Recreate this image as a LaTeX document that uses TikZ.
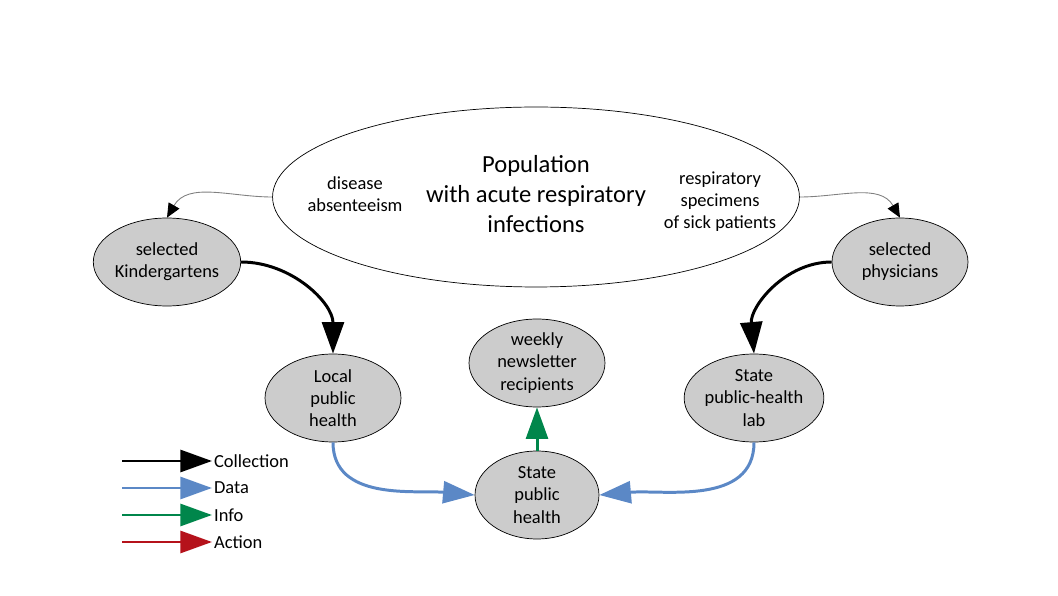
\documentclass[tikz,border=0pt]{standalone}
\usepackage{fontspec}
\setmainfont{Carlito}
\usetikzlibrary{arrows.meta,shapes.geometric}
\definecolor{collectc}{HTML}{000000}
\definecolor{datac}{HTML}{5B88C6}
\definecolor{infoc}{HTML}{00864B}
\definecolor{actionc}{HTML}{B5121B}
\tikzset{
  actor/.style={ellipse, draw, fill=gray!40, inner sep=0pt, minimum width=2.72cm, minimum height=1.76cm, align=center, font=\fontsize{10.5}{12.6}\selectfont},
  big/.style={-{Triangle[length=18pt,width=12.5pt]}, line width=1.7pt},
  feed/.style={-{Triangle[length=8pt,width=7pt,color=black]}, draw=gray, line width=0.5pt},
  legtext/.style={anchor=west, inner sep=1pt, font=\fontsize{10.5}{12.6}\selectfont}
}
\begin{document}
\begin{tikzpicture}[x=0.02cm, y=0.02cm]
\useasboundingbox (0,0) rectangle (1058,595);
% population and its two sources
\node[ellipse, draw, inner sep=0pt, minimum width=10.54cm, minimum height=3.6cm] (pop) at (536,398) {};
\node[align=center, font=\fontsize{14}{17}\selectfont] (title) at (536,401) {Population\\with acute respiratory\\infections};
\node[align=center, font=\fontsize{10.5}{12.6}\selectfont] (absent) at (355,401) {disease\\absenteeism};
\node[align=center, font=\fontsize{10.5}{12.6}\selectfont] (specim) at (720,393) {respiratory\\specimens\\of sick patients};
% actors
\node[actor] (kind) at (167,333) {selected\\Kindergartens};
\node[actor] (phys) at (900,333) {selected\\physicians};
\node[actor] (local) at (333,197) {Local\\public\\health};
\node[actor] (news) at (537,232) {weekly\\newsletter\\recipients};
\node[actor, minimum width=2.48cm] (sph) at (537,100) {State\\public\\health};
\node[actor] (lab) at (754,197) {State\\public-health\\lab};
% flows
\draw[feed] (pop.west) to[out=180,in=60] (kind.north);
\draw[feed] (pop.east) to[out=0,in=120] (phys.north);
\draw[big, collectc] (kind.east) to[out=0,in=90] (local.north);
\draw[big, collectc] (phys.west) to[out=180,in=95] (lab.north);
\draw[big, datac] (local.south) to[out=-90,in=175] (sph.west);
\draw[big, datac] (lab.south) to[out=-90,in=5] (sph.east);
\draw[big, infoc] (sph.north) -- (news.south);
% legend
\foreach \y/\c/\l/\n in {134/collectc/Collection/lcoll, 107/datac/Data/ldata, 80/infoc/Info/linfo, 53/actionc/Action/lact} {
  \coordinate (\n s) at (122,\y);
  \node[legtext] (\n) at (212,\y) {\l};
  \draw[big, \c] (\n s) -- (\n.west);
}
\end{tikzpicture}
\end{document}
